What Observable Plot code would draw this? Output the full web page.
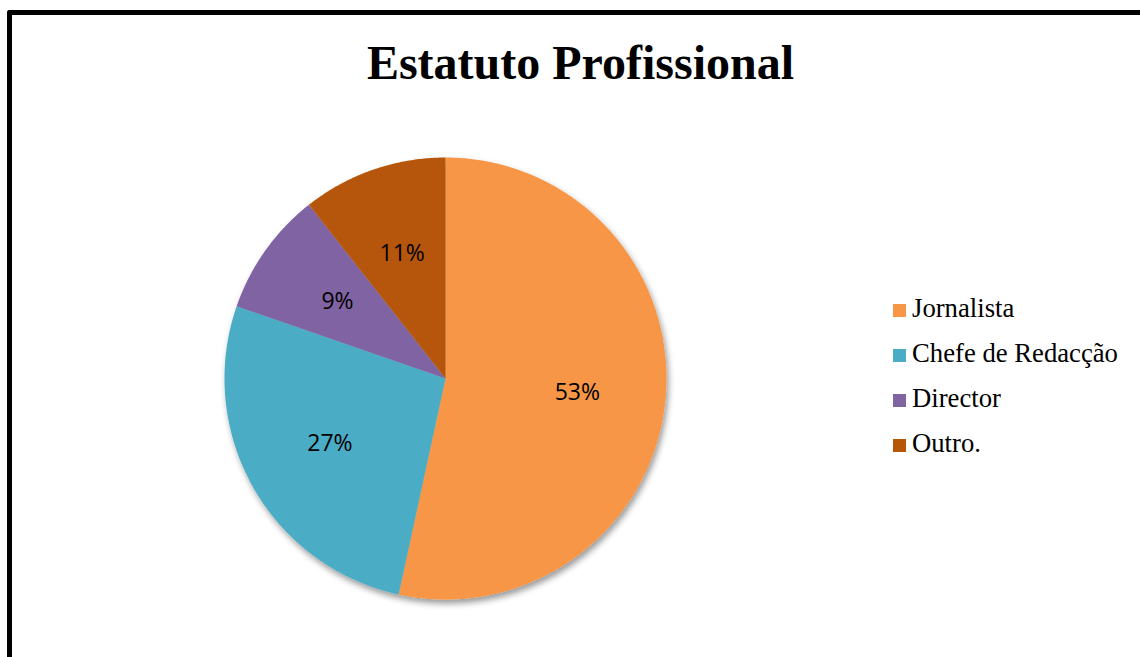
<!DOCTYPE html>
<html>
<head>
<meta charset="utf-8">
<script src="https://cdn.jsdelivr.net/npm/d3@7"></script>
<script src="https://cdn.jsdelivr.net/npm/@observablehq/plot@0.6"></script>
<style>
  html, body { margin: 0; padding: 0; background: #fff; }
  #page { position: relative; width: 1140px; height: 657px; overflow: hidden; background: #fff; }
  #frame { position: absolute; left: 7px; top: 10px; width: 1200px; height: 700px;
           border-left: 5px solid #000; border-top: 5px solid #000; border-top-left-radius: 3px; box-sizing: border-box; }
  #title { position: absolute; left: 0; top: 39px; width: 1161px; text-align: center;
           font-family: "Liberation Serif", "Times New Roman", serif; font-weight: bold; font-size: 48px; line-height: 1; color: #000; }
  #chart { position: absolute; left: 210px; top: 143px; }
  #legend { position: absolute; left: 893px; top: 286px; font-family: "Liberation Serif", "Times New Roman", serif; font-size: 26.7px; color: #000; }
  #legend .row { height: 45px; line-height: 45px; white-space: nowrap; }
  #legend .sw { display: inline-block; width: 13px; height: 13px; margin-right: 6px; vertical-align: baseline; }
</style>
</head>
<body>
<div id="page">
  <div id="frame"></div>
  <div id="title"></div>
  <div id="chart"></div>
  <div id="legend"></div>
</div>
<script>
const title = "Estatuto Profissional";
const categories = ["Jornalista", "Chefe de Redacção", "Director", "Outro."];
const shares = [53.4, 26.9, 9.1, 10.6];
const colors = ["#F79646", "#4BACC6", "#8064A2", "#B65708"];

document.getElementById("title").textContent = title;

// Build slice polygons (angle measured clockwise from 12 o'clock)
const total = d3.sum(shares);
const slicePts = [];
const labels = [];
let acc = 0;
categories.forEach((name, i) => {
  const a0 = acc / total * 2 * Math.PI;
  acc += shares[i];
  const a1 = acc / total * 2 * Math.PI;
  slicePts.push({name, x: 0, y: 0});
  const n = Math.max(2, Math.ceil((a1 - a0) / (Math.PI / 360)));
  for (let k = 0; k <= n; k++) {
    const a = a0 + (a1 - a0) * k / n;
    slicePts.push({name, x: Math.sin(a), y: Math.cos(a)});
  }
  slicePts.push({name, x: 0, y: 0});
  const am = (a0 + a1) / 2;
  const lr = 0.6;
  labels.push({name, x: lr * Math.sin(am), y: lr * Math.cos(am), text: Math.round(shares[i] / total * 100) + "%"});
});

const R = 221, pad = 14;
const chart = Plot.plot({
  width: 2 * R + 2 * pad,
  height: 2 * R + 2 * pad,
  margin: pad,
  x: {domain: [-1, 1], axis: null},
  y: {domain: [-1, 1], axis: null},
  color: {type: "ordinal", domain: categories, range: colors},
  style: {background: "transparent", overflow: "visible"},
  marks: [
    Plot.line(slicePts, {x: "x", y: "y", z: "name", fill: "name", stroke: null, curve: "linear"}),
    Plot.text(labels, {x: "x", y: "y", text: "text", fill: "#000", fontSize: 23,
      fontFamily: "'Open Sans', 'Liberation Sans', sans-serif"})
  ]
});

// Drop shadow on the pie
const ns = "http://www.w3.org/2000/svg";
const defs = document.createElementNS(ns, "defs");
defs.innerHTML = '<filter id="pieShadow" x="-10%" y="-10%" width="130%" height="130%">' +
  '<feDropShadow dx="2" dy="4" stdDeviation="3" flood-color="#000" flood-opacity="0.4"/></filter>';
chart.insertBefore(defs, chart.firstChild);
const lineG = chart.querySelector('g[aria-label="line"]');
if (lineG) lineG.setAttribute("filter", "url(#pieShadow)");
document.getElementById("chart").appendChild(chart);

// Legend
const leg = document.getElementById("legend");
categories.forEach((name, i) => {
  const row = document.createElement("div");
  row.className = "row";
  const sw = document.createElement("span");
  sw.className = "sw";
  sw.style.background = colors[i];
  row.appendChild(sw);
  row.appendChild(document.createTextNode(name));
  leg.appendChild(row);
});
</script>
</body>
</html>
